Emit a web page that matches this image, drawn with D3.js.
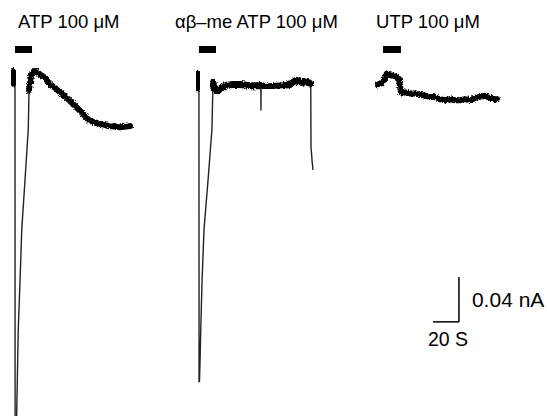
<!DOCTYPE html>
<html>
<head>
<meta charset="utf-8">
<script src="https://cdn.jsdelivr.net/npm/d3@7"></script>
<style>
body { margin: 0; background: #fff; }
svg { display: block; }
text { font-family: "Liberation Sans", Arial, Helvetica, sans-serif; fill: #000; }
</style>
</head>
<body>
<svg width="547" height="416"></svg>
<script>
// Agonists and their application windows (s).
var drug_labels = ["ATP 100 \u03bcM", "\u03b1\u03b2\u2013me ATP 100 \u03bcM", "UTP 100 \u03bcM"];
var app_on = [2.3, 143.8, 285.4];
var app_off = [15.4, 156.9, 299.2];

// ATP response: time (s) and current (pA).
var atp_t = [0, 0.4, 0.8, 1.2, 1.6, 2.0, 2.3, 2.4, 3.2, 3.6, 4.1, 4.8, 6.2, 7.5, 10.0, 12.5, 13.1,
	14.6, 16.9, 19.2, 21.5, 25.4, 29.2, 33.1, 36.9, 42.3, 48.5, 54.6, 58.5, 63.8, 67.7, 75.4, 83.1, 90.8];
var atp_i = [6, -2, 8, -3, 7, -2, 0, -340, -340, -296, -267, -222, -178, -133, -89, -44, -9,
	4, 8, 7, 5, 2, -4, -7, -11, -16, -23, -30, -35, -38, -39, -41, -42, -41];

// alpha,beta-methylene ATP response.
var abm_t = [142.3, 142.8, 143.3, 143.8, 143.9, 144.2, 144.6, 145.2, 146.2, 147.7, 150.8, 153.8,
	154.6, 155.4, 157.7, 160.0, 163.8, 170.0, 175.4, 183.1, 190.8, 191.4, 191.5, 191.6, 196.2,
	198.5, 208.5, 213.8, 219.2, 221.5, 226.9, 229.8, 230.0, 230.6, 230.8, 231.2, 231.5];
var abm_i = [5, -7, 6, -4, -268, -268, -252, -222, -178, -133, -89, -44,
	-2, -7, -10, -8, -5, -4, -4, -5, -5, -5, -27, -5, -6,
	-6, -5, -4, 0, -2, -2, -3, -60, -68, -72, -76, -80];

// UTP response.
var utp_t = [281.5, 283.8, 286.2, 288.5, 290.8, 293.1, 295.4, 297.7, 298.5, 299.2, 302.3, 306.2,
	310.0, 313.8, 317.7, 321.5, 325.4, 329.2, 333.1, 336.9, 340.8, 344.6, 348.5, 352.3, 356.2,
	360.0, 363.8, 367.7, 371.5, 373.1];
var utp_i = [-4, -3, 0, 6, 4, 4, 3, 1, -5, -11, -11, -12,
	-12, -13, -14, -15, -15, -17, -18, -17, -18, -18, -17, -18, -16,
	-15, -14, -16, -17, -17];

// Calibration bar.
var scale_time = 20; // s
var scale_current = 40; // pA

var svg = d3.select("svg");

// 1.3 px per second, 1.125 px per pA.
var x = d3.scaleLinear().domain([0, 410]).range([12, 545]);
var y = d3.scaleLinear().domain([70, -300]).range([1.25, 417.5]);

// Roughens the edges of the thick noise band.
var defs = svg.append("defs");
var filt = defs.append("filter").attr("id", "rough")
	.attr("x", "-5%").attr("y", "-30%").attr("width", "110%").attr("height", "160%");
filt.append("feTurbulence").attr("type", "fractalNoise").attr("baseFrequency", 0.6)
	.attr("numOctaves", 2).attr("seed", 3).attr("result", "n");
filt.append("feDisplacementMap").attr("in", "SourceGraphic").attr("in2", "n")
	.attr("scale", 4).attr("xChannelSelector", "R").attr("yChannelSelector", "G");

// Each trace with the time windows that carry the noisy (thick) band.
var traces = [
	{ t: atp_t, i: atp_i, noisy: [[0, 2.3], [13.1, 91]], band: 6 },
	{ t: abm_t, i: abm_i, noisy: [[142.3, 143.8], [154.6, 191.4], [191.6, 229.8]], band: 7 },
	{ t: utp_t, i: utp_i, noisy: [[281.5, 373.1]], band: 6 }
];

var line = d3.line()
	.x(function(d) { return x(d[0]); })
	.y(function(d) { return y(d[1]); });

traces.forEach(function(tr) {
	var pts = tr.t.map(function(t, k) { return [t, tr.i[k]]; });
	// Whole trace as a thin line.
	svg.append("path")
		.attr("d", line(pts))
		.attr("fill", "none")
		.attr("stroke", "#222")
		.attr("stroke-width", 1.4);
	// Noisy parts drawn thick.
	tr.noisy.forEach(function(w) {
		var seg = pts.filter(function(p) { return p[0] >= w[0] && p[0] <= w[1]; });
		svg.append("path")
			.attr("d", line(seg))
			.attr("fill", "none")
			.attr("stroke", "#000")
			.attr("stroke-width", tr.band)
			.attr("stroke-linejoin", "round")
			.attr("stroke-linecap", "round")
			.attr("filter", "url(#rough)");
	});
});

// Application bars.
svg.append("g").selectAll("rect")
	.data(app_on)
	.enter()
	.append("rect")
	.attr("x", function(d) { return x(d); })
	.attr("y", 46)
	.attr("width", function(d, k) { return x(app_off[k]) - x(d); })
	.attr("height", 7)
	.attr("fill", "#000");

// Agonist labels.
var label_dx = [3, -24, -7];
svg.append("g").selectAll("text")
	.data(drug_labels)
	.enter()
	.append("text")
	.attr("x", function(d, k) { return x(app_on[k]) + label_dx[k]; })
	.attr("y", 28)
	.attr("font-size", 18.5)
	.text(function(d) { return d; });

// Calibration bar: corner at 343.8 s, -215 pA.
var ct = 343.8, ci = -215;
var cal = svg.append("g").attr("stroke", "#000").attr("stroke-width", 1.5);
cal.append("line")
	.attr("x1", x(ct)).attr("x2", x(ct))
	.attr("y1", y(ci)).attr("y2", y(ci + scale_current));
cal.append("line")
	.attr("x1", x(ct - scale_time)).attr("x2", x(ct))
	.attr("y1", y(ci)).attr("y2", y(ci));

svg.append("text")
	.attr("x", x(ct) + 13)
	.attr("y", y(ci) - 15)
	.attr("font-size", 21)
	.text(d3.format(".2f")(scale_current / 1000) + " nA");
svg.append("text")
	.attr("x", x(ct - scale_time) - 5)
	.attr("y", y(ci) + 24)
	.attr("font-size", 19.5)
	.text(scale_time + " S");
</script>
</body>
</html>
